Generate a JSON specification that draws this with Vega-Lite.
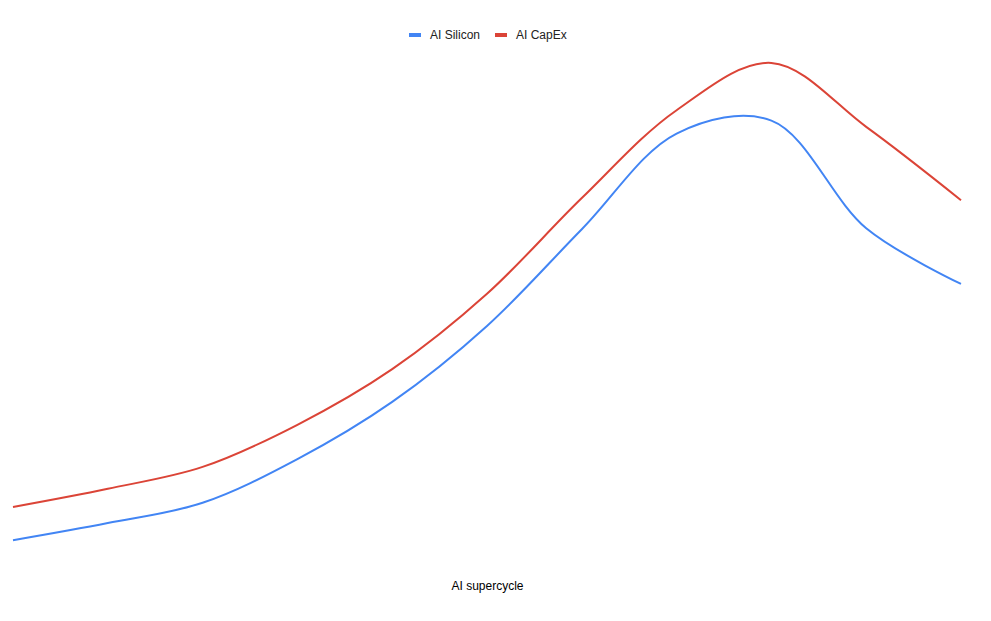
{
  "$schema": "https://vega.github.io/schema/vega-lite/v6.json",
  "autosize": "none",
  "width": 948,
  "height": 520,
  "padding": {"left": 13, "top": 40, "right": 30, "bottom": 61},
  "background": "white",
  "config": {
    "view": {"stroke": null},
    "font": "Liberation Sans"
  },
  "data": {
    "values": [
      {"step": 0, "series": "AI Silicon", "value": 3.8},
      {"step": 1, "series": "AI Silicon", "value": 7.1},
      {"step": 2, "series": "AI Silicon", "value": 11.0},
      {"step": 3, "series": "AI Silicon", "value": 19.4},
      {"step": 4, "series": "AI Silicon", "value": 30.4},
      {"step": 5, "series": "AI Silicon", "value": 45.0},
      {"step": 6, "series": "AI Silicon", "value": 63.6},
      {"step": 7, "series": "AI Silicon", "value": 82.0},
      {"step": 8, "series": "AI Silicon", "value": 84.5},
      {"step": 9, "series": "AI Silicon", "value": 63.8},
      {"step": 10, "series": "AI Silicon", "value": 53.1},
      {"step": 0, "series": "AI CapEx", "value": 10.2},
      {"step": 1, "series": "AI CapEx", "value": 13.7},
      {"step": 2, "series": "AI CapEx", "value": 17.9},
      {"step": 3, "series": "AI CapEx", "value": 26.0},
      {"step": 4, "series": "AI CapEx", "value": 36.7},
      {"step": 5, "series": "AI CapEx", "value": 51.2},
      {"step": 6, "series": "AI CapEx", "value": 69.6},
      {"step": 7, "series": "AI CapEx", "value": 86.5},
      {"step": 8, "series": "AI CapEx", "value": 95.6},
      {"step": 9, "series": "AI CapEx", "value": 83.3},
      {"step": 10, "series": "AI CapEx", "value": 69.2}
    ]
  },
  "mark": {"type": "line", "interpolate": "catmull-rom", "strokeWidth": 2},
  "encoding": {
    "x": {
      "field": "step",
      "type": "quantitative",
      "scale": {"domain": [0, 10], "nice": false, "zero": false},
      "axis": {
        "title": "AI supercycle",
        "domain": false,
        "ticks": false,
        "labels": false,
        "grid": false,
        "titleFont": "Liberation Sans",
        "titleFontSize": 12,
        "titleFontWeight": "normal",
        "titleColor": "#000000",
        "titlePadding": 20
      }
    },
    "y": {
      "field": "value",
      "type": "quantitative",
      "scale": {"domain": [0, 100], "nice": false, "zero": false},
      "axis": null
    },
    "color": {
      "field": "series",
      "type": "nominal",
      "sort": ["AI Silicon", "AI CapEx"],
      "scale": {"domain": ["AI Silicon", "AI CapEx"], "range": ["#4285F4", "#DB4437"]},
      "legend": {
        "title": null,
        "orient": "none",
        "direction": "horizontal",
        "legendX": 394,
        "legendY": -13,
        "symbolType": "stroke",
        "symbolSize": 144,
        "symbolStrokeWidth": 4,
        "labelFont": "Liberation Sans",
        "labelFontSize": 12,
        "labelColor": "#222222",
        "labelOffset": 7,
        "columnPadding": 6
      }
    }
  }
}
